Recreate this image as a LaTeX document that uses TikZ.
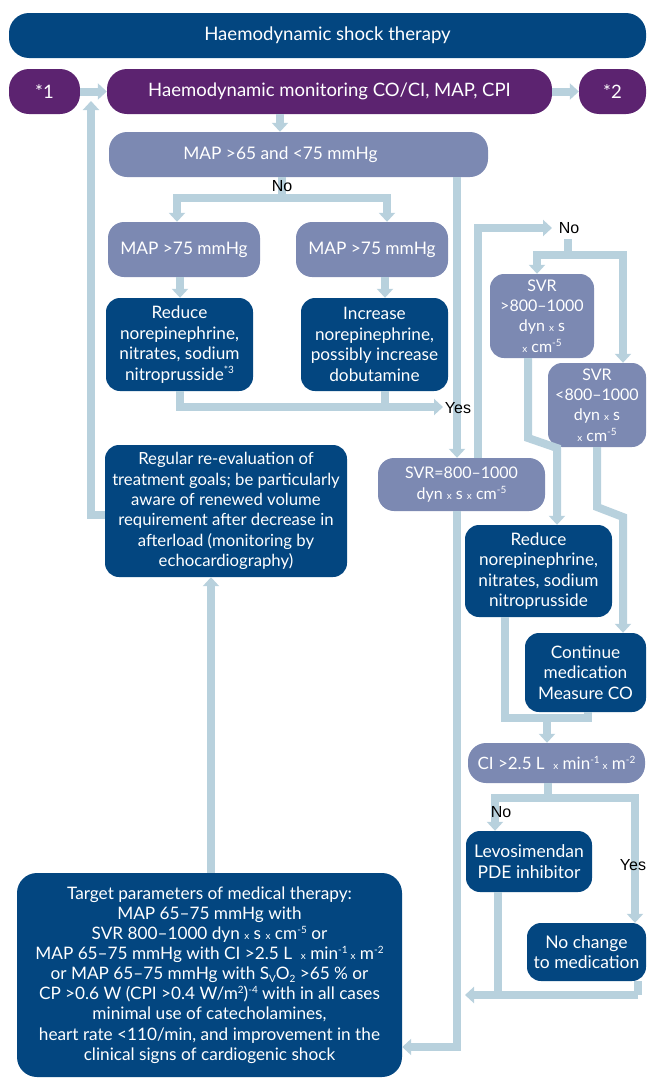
\documentclass[tikz,border=0pt]{standalone}
\usepackage{fontspec}
\setmainfont{Lato}
\newfontfamily\labfont{Liberation Sans}
\usetikzlibrary{arrows.meta}
\definecolor{dblue}{RGB}{3,70,128}
\definecolor{purp}{RGB}{92,35,112}
\definecolor{slate}{RGB}{124,137,178}
\definecolor{lblue}{RGB}{184,209,221}
\newcommand{\tx}{{\fontsize{10}{10}\selectfont x}}
\newcommand{\sps}[1]{\raisebox{0.38em}{\fontsize{10}{10}\selectfont #1}}
\newcommand{\sbs}[1]{\raisebox{-0.18em}{\fontsize{10}{10}\selectfont #1}}
\begin{document}
\begin{tikzpicture}[x=1pt,y=-1pt,
 box/.style={rounded corners=14pt, text=white, align=center, inner sep=0pt, font=\fontsize{16}{20.4}\selectfont},
 dbox/.style={box, fill=dblue, font=\fontsize{17.2}{20.5}\selectfont},
 sbox/.style={box, fill=slate},
 pbox/.style={box, fill=purp, rounded corners=20pt, font=\fontsize{18.5}{22}\selectfont},
 wh/.style 2 args={minimum width=#1, minimum height=#2},
 conn/.style={draw=lblue, line width=8pt, line join=miter},
 arr/.style={-{Triangle[width=16pt,length=9pt]}},
 lab/.style={font=\labfont\fontsize{16}{18}\selectfont, text=black, inner sep=0pt},
]
\useasboundingbox (0,0) rectangle (646,1079);

% boxes
\node[dbox, rounded corners=20pt, font=\fontsize{18.6}{22}\selectfont, wh={637pt}{45pt}] (title) at (327.5,35.5) {Haemodynamic shock therapy};
\node[pbox, wh={71pt}{45pt}] (s1) at (44.5,91.5) {*1};
\node[pbox, wh={445pt}{45pt}] (mon) at (329.5,91.5) {Haemodynamic monitoring CO/CI, MAP, CPI};
\node[pbox, wh={67pt}{45pt}] (s2) at (612.5,91.5) {*2};
\node[sbox, rounded corners=18pt, font=\fontsize{17.3}{21}\selectfont, wh={379pt}{45pt}] (map1) at (298.5,154.5) {MAP >65 and <75 mmHg\hspace*{36pt}};
\node[sbox, rounded corners=16pt, font=\fontsize{17.3}{21}\selectfont, wh={152pt}{55pt}] (mapL) at (184,249.5) {MAP >75 mmHg};
\node[sbox, rounded corners=16pt, font=\fontsize{17.3}{21}\selectfont, wh={152pt}{55pt}] (mapR) at (372,249.5) {MAP >75 mmHg};
\node[dbox, wh={147pt}{93pt}] (redL) at (179.5,344.5) {Reduce\\norepinephrine,\\nitrates, sodium\\nitroprusside\sps{*3}};
\node[dbox, wh={147pt}{93pt}] (incR) at (374.5,344.5) {Increase\\norepinephrine,\\possibly increase\\dobutamine};
\node[dbox, font=\fontsize{16.7}{20.3}\selectfont, wh={242pt}{132pt}] (reeval) at (226,511) {Regular re-evaluation of\\treatment goals; be particularly\\aware of renewed volume\\requirement after decrease in\\afterload (monitoring by\\echocardiography)};
\node[sbox, rounded corners=16pt, wh={167pt}{53pt}] (svrEq) at (461.5,484.5) {SVR=800--1000\\dyn \tx{} s \tx{} cm\sps{-5}};
\node[sbox, wh={104pt}{84pt}] (svrG) at (542,316) {SVR\\>800--1000\\dyn \tx{} s\\\tx{} cm\sps{-5}};
\node[sbox, wh={98pt}{84pt}] (svrL) at (597,405) {SVR\\<800--1000\\dyn \tx{} s\\\tx{} cm\sps{-5}};
\node[dbox, wh={147pt}{92pt}] (redR) at (538.5,571) {Reduce\\norepinephrine,\\nitrates, sodium\\nitroprusside};
\node[dbox, wh={121pt}{79pt}] (cont) at (585.5,672.5) {Continue\\medication\\Measure CO};
\node[sbox, rounded corners=18pt, font=\fontsize{17}{20}\selectfont, wh={177pt}{40pt}] (ci) at (556.5,763) {CI >2.5 L \ \tx{} min\sps{-1}\,\tx{} m\sps{-2}};
\node[dbox, font=\fontsize{17.5}{20.5}\selectfont, wh={126pt}{61pt}] (levo) at (529,861.5) {Levosimendan\\PDE inhibitor};
\node[dbox, font=\fontsize{17.5}{20.5}\selectfont, wh={119pt}{58pt}] (nochg) at (586.5,952) {No change\\to medication};
\node[dbox, rounded corners=20pt, font=\fontsize{17.2}{20.1}\selectfont, wh={385pt}{204pt}] (target) at (209.5,975) {Target parameters of medical therapy:\\MAP 65--75 mmHg with\\SVR 800--1000 dyn \tx{} s \tx{} cm\sps{-5} or\\MAP 65--75 mmHg with CI >2.5 L \ \tx{} min\sps{-1}\,\tx{} m\sps{-2}\\or MAP 65--75 mmHg with S\sbs{V}O\sbs{2} >65 \% or\\CP >0.6 W (CPI >0.4 W/m\sps{2})\sps{-4} with in all cases\\minimal use of catecholamines,\\heart rate <110/min, and improvement in the\\clinical signs of cardiogenic shock};

% free ends of connectors
\coordinate (noBin) at (552,228);
\coordinate (noBout) at (568,239);

% connectors
\draw[conn,arr] (s1.east) -- (mon.west);
\draw[conn,arr] (mon.east) -- (s2.west);
\draw[conn,arr] (280,0 |- mon.south) -- (280,0 |- map1.north);
\draw[conn] (282,0 |- map1.south) -- (282,198);
\draw[conn,arr] (387,198) -- (177,198) -- (177,0 |- mapL.north);
\draw[conn,arr] (177,198) -- (387,198) -- (387,0 |- mapR.north);
\draw[conn,arr] (180,0 |- mapL.south) -- (180,0 |- redL.north);
\draw[conn,arr] (385,0 |- mapR.south) -- (385,0 |- incR.north);
\draw[conn] (385,0 |- incR.south) -- (385,407);
\draw[conn,arr] (180,0 |- redL.south) -- (180,407) -- (443,407);
\draw[conn,arr] (457,0 |- map1.south) -- (457,0 |- svrEq.north);
\draw[conn,arr] (478,0 |- svrEq.north) -- (478,228) -- (noBin);
\draw[conn] (noBout) -- (568,255);
\draw[conn,arr] (623,255) -- (537,255) -- (537,0 |- svrG.north);
\draw[conn,arr] (537,255) -- (623,255) -- (623,0 |- svrL.north);
\draw[conn,arr] (528,0 |- svrG.south) -- (528,438) -- (557,448) -- (557,0 |- redR.north);
\draw[conn,arr] (597,0 |- svrL.south) -- (597,507) -- (623,517) -- (623,0 |- cont.north);
\draw[conn] (505,0 |- redR.south) -- (505,718) -- (588,718) -- (588,0 |- cont.south);
\draw[conn,arr] (547,718) -- (547,0 |- ci.north);
\draw[conn] (548,0 |- ci.south) -- (548,798);
\draw[conn,arr] (635,798) -- (495,798) -- (495,0 |- levo.north);
\draw[conn,arr] (495,798) -- (635,798) -- (635,0 |- nochg.north);
\draw[conn] (498,0 |- levo.south) -- (498,995);
\draw[conn] (638,0 |- nochg.south) -- (638,995);
\draw[conn,arr] (638,995) -- (465,995);
\draw[conn,arr] (457,0 |- svrEq.south) -- (457,1047) -- (target.east |- 0,1047);
\draw[conn,arr] (211,0 |- target.north) -- (211,0 |- reeval.south);
\draw[conn,arr] (reeval.west |- 0,515) -- (91,515) -- (91,101);

% labels
\node[lab] (noA) at (282,186) {No};
\node[lab] (noB) at (569,228) {No};
\node[lab] (noC) at (501,812) {No};
\node[lab] (yesA) at (458,408) {Yes};
\node[lab] (yesC) at (633,865) {Yes};
\end{tikzpicture}
\end{document}
